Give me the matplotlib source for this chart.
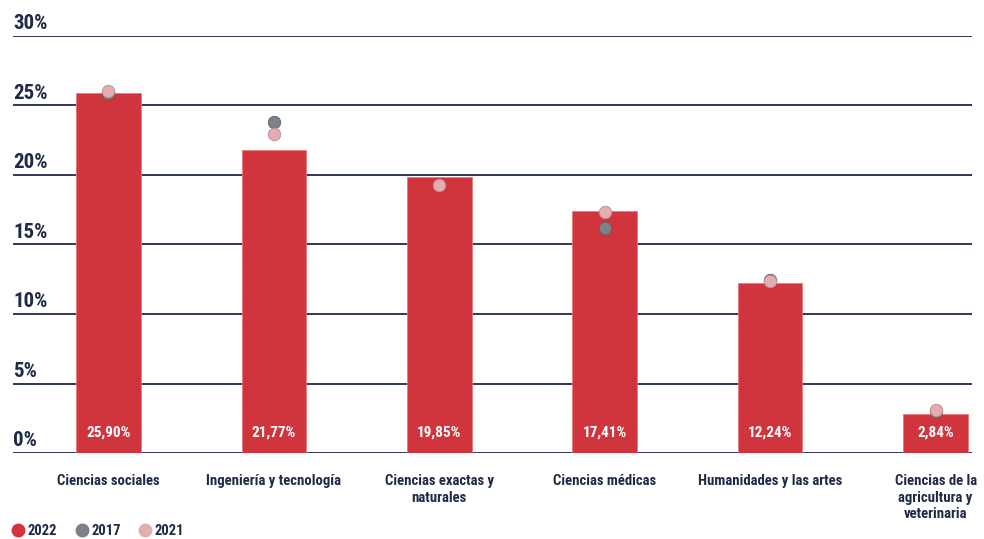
import matplotlib
matplotlib.use('Agg')
import matplotlib.pyplot as plt
import matplotlib.transforms as mtransforms
from matplotlib.lines import Line2D

plt.rcParams['font.family'] = ['Roboto Condensed', 'DejaVu Sans']

categorias = ['Ciencias sociales', 'Ingeniería y tecnología', 'Ciencias exactas y\nnaturales',
              'Ciencias médicas', 'Humanidades y las artes', 'Ciencias de la\nagricultura y\nveterinaria']
v2022 = [25.90, 21.77, 19.85, 17.41, 12.24, 2.84]
v2017 = [25.9, 23.8, 19.3, 16.2, 12.45, 3.05]
v2021 = [26.05, 22.95, 19.3, 17.35, 12.35, 3.1]
etiquetas = ['25,90%', '21,77%', '19,85%', '17,41%', '12,24%', '2,84%']
yticks = [0, 5, 10, 15, 20, 25, 30]

rojo = '#d0343c'
gris = '#7d818a'
rosa = '#e3aeb0'
navy = '#1f2a47'

fig = plt.figure(figsize=(9.84, 5.39), dpi=100)
ax = fig.add_axes([13/984, (539-453)/539, (972-13)/984, 417/539])

x = list(range(len(categorias)))
ax.bar(x, v2022, width=0.39, color=rojo, edgecolor='#e8777d', linewidth=0.6, zorder=2)
ax.plot(x, v2017, 'o', ls='none', ms=9, color=gris, mec='#5f636c', mew=0.6, zorder=3)
ax.plot(x, v2021, 'o', ls='none', ms=9, color=rosa, mec='#b88c8f', mew=0.6, zorder=4)

ax.set_xlim(-0.577, 5.22)
ax.set_ylim(0, 30)
for s in ax.spines.values():
    s.set_visible(False)
ax.set_xticks([])
ax.set_yticks([])

trans = mtransforms.blended_transform_factory(ax.transAxes, ax.transData)
for t in yticks:
    ax.axhline(t, color=navy, lw=1.3, zorder=1)
    ax.annotate(f'{t}%', xy=(0, t), xycoords=trans, xytext=(0, 2), textcoords='offset points',
                ha='left', va='bottom', fontsize=15, fontweight='bold', color=navy)

for i in x:
    ax.annotate(etiquetas[i], xy=(i, 0), xytext=(0, 15), textcoords='offset points',
                ha='center', va='center', fontsize=11, fontweight='bold', color='white', zorder=5)
    ax.annotate(categorias[i], xy=(i, 0), xytext=(0, -15), textcoords='offset points',
                ha='center', va='top', fontsize=10.6, fontweight='bold', color=navy,
                linespacing=1.25, annotation_clip=False)

handles = [Line2D([], [], marker='o', ls='none', ms=9, color=rojo, label='2022'),
           Line2D([], [], marker='o', ls='none', ms=9, color=gris, label='2017'),
           Line2D([], [], marker='o', ls='none', ms=9, color=rosa, label='2021')]
leg = fig.legend(handles=handles, loc='lower left', bbox_to_anchor=(-0.004, -0.022), ncol=3,
                 frameon=False, handletextpad=0.05, columnspacing=1.1, handlelength=1.2,
                 prop={'weight': 'bold', 'size': 10.5})
for t in leg.get_texts():
    t.set_color(navy)

fig.savefig('out.png', dpi=100)
